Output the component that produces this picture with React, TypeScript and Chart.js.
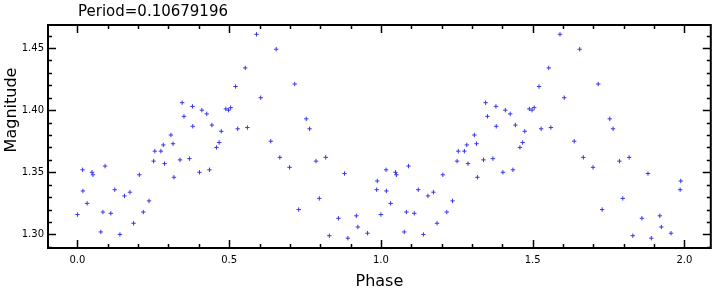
import React, { useEffect, useRef } from "react";
import { Chart, registerables } from "chart.js";

Chart.register(...registerables);

const titleText = "Period=0.10679196";
const xAxisTitle = "Phase";
const yAxisTitle = "Magnitude";

const phases = [
  0.0, 0.017, 0.018, 0.032, 0.048, 0.051, 0.077, 0.084, 0.091, 0.11,
  0.123, 0.14, 0.155, 0.173, 0.185, 0.204, 0.217, 0.236, 0.251, 0.255,
  0.275, 0.283, 0.287, 0.308, 0.315, 0.318, 0.338, 0.345, 0.351, 0.369,
  0.379, 0.38, 0.402, 0.41, 0.426, 0.435, 0.443, 0.458, 0.467, 0.474,
  0.489, 0.498, 0.505, 0.521, 0.528, 0.553, 0.56, 0.59, 0.604, 0.637,
  0.655, 0.667, 0.699, 0.716, 0.729, 0.754, 0.765, 0.786, 0.797, 0.818,
  0.83, 0.86, 0.88, 0.891, 0.919, 0.924, 0.956, 0.986, 0.988,
];

const magnitudes = [
  1.316, 1.352, 1.335, 1.325, 1.35, 1.348, 1.302, 1.318, 1.355, 1.317,
  1.336, 1.3, 1.331, 1.334, 1.309, 1.348, 1.318, 1.327, 1.359, 1.367,
  1.367, 1.372, 1.357, 1.38, 1.373, 1.346, 1.36, 1.406, 1.395, 1.361,
  1.403, 1.387, 1.35, 1.4, 1.397, 1.352, 1.388, 1.37, 1.374, 1.383,
  1.401, 1.4, 1.402, 1.419, 1.385, 1.434, 1.386, 1.461, 1.41, 1.375,
  1.449, 1.362, 1.354, 1.421, 1.32, 1.393, 1.385, 1.359, 1.329, 1.362,
  1.299, 1.313, 1.349, 1.297, 1.315, 1.306, 1.301, 1.336, 1.343,
];

const cycles = [0, 1];

const xMajorTicks = [0, 0.5, 1, 1.5, 2];
const xTickLabels = ["0.0", "0.5", "1.0", "1.5", "2.0"];
const yMajorTicks = [1.3, 1.35, 1.4, 1.45];
const yTickLabels = ["1.30", "1.35", "1.40", "1.45"];

const xRange = [-0.097, 2.087];
const yRange = [1.2891, 1.4685];
const xMinorStep = 0.1;
const yMinorStep = 0.01;

const FONT = "'DejaVu Sans', 'Liberation Sans', sans-serif";

export default function App() {
  const ref = useRef<HTMLCanvasElement | null>(null);

  useEffect(() => {
    document.body.style.margin = "0";
    const canvas = ref.current;
    if (!canvas) return;

    const points: { x: number; y: number }[] = [];
    cycles.forEach((c) => {
      phases.forEach((p, i) => points.push({ x: p + c, y: magnitudes[i] }));
    });

    const decor = {
      id: "decor",
      afterDraw(chart: any) {
        const ctx = chart.ctx;
        const a = chart.chartArea;
        const xs = chart.scales.x;
        const ys = chart.scales.y;
        ctx.save();
        ctx.strokeStyle = "#000";
        ctx.lineWidth = 1.5;
        const xk0 = Math.ceil(xs.min / xMinorStep - 1e-9);
        const xk1 = Math.floor(xs.max / xMinorStep + 1e-9);
        for (let k = xk0; k <= xk1; k++) {
          const v = k * xMinorStep;
          const major = xMajorTicks.some((m) => Math.abs(m - v) < 1e-6);
          const len = major ? 8 : 4;
          const px = Math.round(xs.getPixelForValue(v)) + 0.5;
          ctx.beginPath();
          ctx.moveTo(px, a.bottom);
          ctx.lineTo(px, a.bottom - len);
          ctx.moveTo(px, a.top);
          ctx.lineTo(px, a.top + len);
          ctx.stroke();
        }
        const yk0 = Math.ceil(ys.min / yMinorStep - 1e-9);
        const yk1 = Math.floor(ys.max / yMinorStep + 1e-9);
        for (let k = yk0; k <= yk1; k++) {
          const v = k * yMinorStep;
          const major = yMajorTicks.some((m) => Math.abs(m - v) < 1e-6);
          const len = major ? 8 : 4;
          const py = Math.round(ys.getPixelForValue(v)) + 0.5;
          ctx.beginPath();
          ctx.moveTo(a.left, py);
          ctx.lineTo(a.left + len, py);
          ctx.moveTo(a.right, py);
          ctx.lineTo(a.right - len, py);
          ctx.stroke();
        }
        ctx.lineWidth = 2;
        ctx.strokeRect(a.left, a.top, a.right - a.left, a.bottom - a.top);

        ctx.fillStyle = "#000";
        ctx.font = `15px ${FONT}`;
        ctx.textAlign = "left";
        ctx.textBaseline = "alphabetic";
        ctx.fillText(titleText, 78, 16);

        ctx.font = `16px ${FONT}`;
        ctx.textAlign = "center";
        ctx.fillText(xAxisTitle, (a.left + a.right) / 2, 286);

        ctx.save();
        ctx.translate(16, 110);
        ctx.rotate(-Math.PI / 2);
        ctx.fillText(yAxisTitle, 0, 0);
        ctx.restore();
        ctx.restore();
      },
    };

    const chart = new Chart(canvas, {
      type: "scatter",
      data: {
        datasets: [
          {
            data: points,
            pointStyle: "cross",
            pointRadius: 2.2,
            pointBorderWidth: 1,
            borderColor: "rgb(55,55,235)",
            backgroundColor: "rgb(55,55,235)",
            pointHoverRadius: 2.2,
          },
        ],
      },
      options: {
        animation: false,
        responsive: false,
        maintainAspectRatio: false,
        events: [],
        layout: { padding: { top: 25, right: 2, left: 0, bottom: 0 } },
        plugins: {
          legend: { display: false },
          tooltip: { enabled: false },
          title: { display: false },
        },
        scales: {
          x: {
            type: "linear",
            min: xRange[0],
            max: xRange[1],
            grid: { display: false, drawTicks: false },
            border: { display: false },
            afterBuildTicks: (scale: any) => {
              scale.ticks = xMajorTicks.map((v) => ({ value: v }));
            },
            afterFit: (scale: any) => {
              scale.height = 41;
            },
            ticks: {
              padding: 6,
              maxRotation: 0,
              autoSkip: false,
              color: "#000",
              font: { family: FONT, size: 10 },
              callback: (v: any) => {
                const i = xMajorTicks.findIndex((m) => Math.abs(m - Number(v)) < 1e-6);
                return i >= 0 ? xTickLabels[i] : "";
              },
            },
          },
          y: {
            type: "linear",
            min: yRange[0],
            max: yRange[1],
            grid: { display: false, drawTicks: false },
            border: { display: false },
            afterBuildTicks: (scale: any) => {
              scale.ticks = yMajorTicks.map((v) => ({ value: v }));
            },
            afterFit: (scale: any) => {
              scale.width = 48;
            },
            ticks: {
              padding: 4,
              autoSkip: false,
              color: "#000",
              font: { family: FONT, size: 10 },
              callback: (v: any) => {
                const i = yMajorTicks.findIndex((m) => Math.abs(m - Number(v)) < 1e-6);
                return i >= 0 ? yTickLabels[i] : "";
              },
            },
          },
        },
      },
      plugins: [decor],
    });

    return () => chart.destroy();
  }, []);

  return (
    <div style={{ width: 714, height: 289 }}>
      <canvas ref={ref} width={714} height={289} style={{ display: "block" }} />
    </div>
  );
}
